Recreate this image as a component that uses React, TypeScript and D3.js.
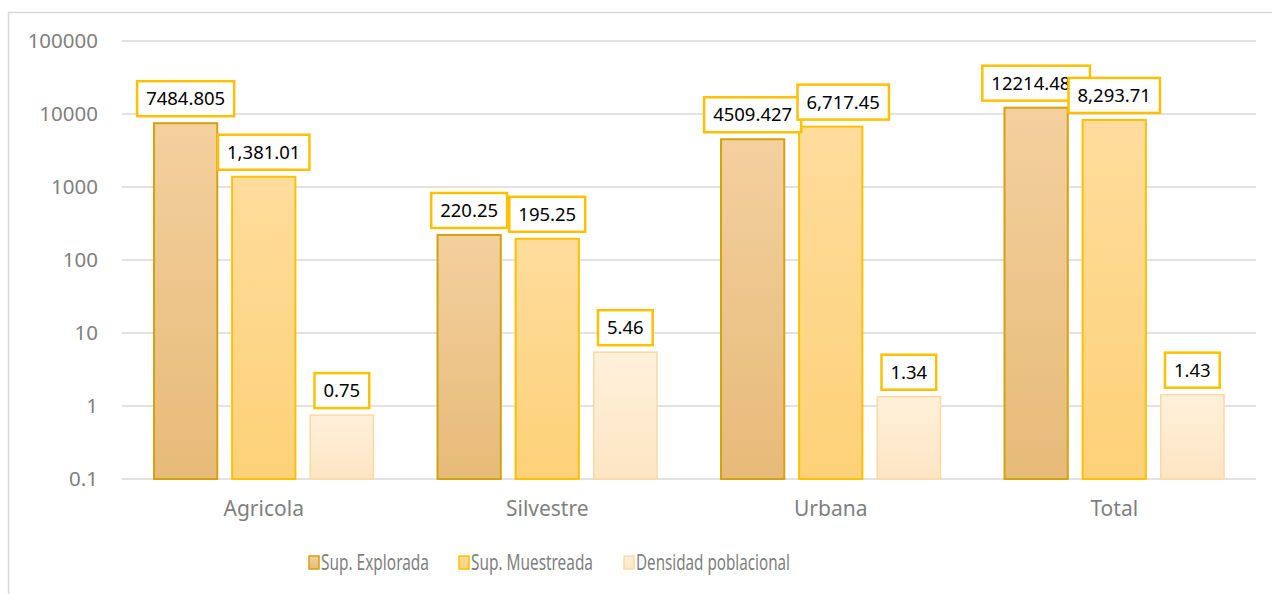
import React, { useRef, useEffect } from 'react';
import * as d3 from 'd3';

const categories = ['Agricola', 'Silvestre', 'Urbana', 'Total'];
const seriesNames = ['Sup. Explorada', 'Sup. Muestreada', 'Densidad poblacional'];
const explorada = [7484.805, 220.25, 4509.427, 12214.482];
const muestreada = [1381.01, 195.25, 6717.45, 8293.71];
const densidad = [0.75, 5.46, 1.34, 1.43];
const yTicks = [0.1, 1, 10, 100, 1000, 10000, 100000];

const W = 1272;
const H = 594;

const styles = [
  { top: '#f3d09e', bottom: '#e7ba78', stroke: '#d4a20f', fmt: (v: number) => String(v) },
  { top: '#fedc9c', bottom: '#fdd178', stroke: '#ffc000', fmt: d3.format(',.2f') },
  { top: '#fff0db', bottom: '#fde5c3', stroke: '#fad9a3', fmt: d3.format('.2f') },
];

const App: React.FC = () => {
  const svgRef = useRef<SVGSVGElement | null>(null);

  useEffect(() => {
    if (!svgRef.current) return;
    const svg = d3.select(svgRef.current);
    svg.selectAll('*').remove();

    const margin = { top: 41, right: 16, bottom: 115, left: 122 };
    const font = '"Noto Sans", "Open Sans", sans-serif';

    // chart frame
    svg.append('rect')
      .attr('x', 8.5).attr('y', 12.5)
      .attr('width', W + 20).attr('height', H + 20)
      .attr('fill', 'white').attr('stroke', '#d9d9d9').attr('stroke-width', 1.5);

    const x = d3.scaleBand()
      .domain(categories)
      .range([margin.left, W - margin.right])
      .paddingInner(0).paddingOuter(0);

    const y = d3.scaleLog()
      .domain([0.1, 100000])
      .range([H - margin.bottom, margin.top]);

    // gridlines
    svg.append('g')
      .selectAll('line')
      .data(yTicks)
      .enter()
      .append('line')
      .attr('x1', margin.left).attr('x2', W - margin.right)
      .attr('y1', d => y(d)).attr('y2', d => y(d))
      .attr('stroke', '#d9d9d9').attr('stroke-width', 1.5);

    svg.append('g')
      .selectAll('text')
      .data(yTicks)
      .enter()
      .append('text')
      .attr('x', 98).attr('y', d => y(d))
      .attr('dy', '0.35em')
      .attr('text-anchor', 'end')
      .attr('font-family', font).attr('font-size', 20.5)
      .attr('fill', '#7f7f7f')
      .text(d => String(d));

    svg.append('g')
      .selectAll('text')
      .data(categories)
      .enter()
      .append('text')
      .attr('x', d => x(d)! + x.bandwidth() / 2)
      .attr('y', H - margin.bottom + 37)
      .attr('text-anchor', 'middle')
      .attr('font-family', font).attr('font-size', 21)
      .attr('fill', '#7f7f7f')
      .text(d => d);

    const defs = svg.append('defs');
    styles.forEach((s, i) => {
      const g = defs.append('linearGradient')
        .attr('id', `grad${i}`).attr('x1', 0).attr('y1', 0).attr('x2', 0).attr('y2', 1);
      g.append('stop').attr('offset', '0%').attr('stop-color', s.top);
      g.append('stop').attr('offset', '100%').attr('stop-color', s.bottom);
    });

    const series = [explorada, muestreada, densidad];
    const xs = d3.scaleBand()
      .domain(seriesNames)
      .range([0, x.bandwidth()])
      .paddingInner(0.19)
      .paddingOuter(0.41);

    series.forEach((vals, si) => {
      const s = styles[si];
      svg.append('g')
        .selectAll('rect')
        .data(vals)
        .enter()
        .append('rect')
        .attr('x', (d, i) => x(categories[i])! + xs(seriesNames[si])!)
        .attr('y', d => y(d))
        .attr('width', xs.bandwidth())
        .attr('height', d => y(0.1) - y(d))
        .attr('fill', `url(#grad${si})`)
        .attr('stroke', s.stroke).attr('stroke-width', si === 2 ? 1.5 : 2);
    });

    // data labels
    series.forEach((vals, si) => {
      const s = styles[si];
      vals.forEach((v, i) => {
        let cx = x(categories[i])! + xs(seriesNames[si])! + xs.bandwidth() / 2;
        if (si === 1 && i === 2) cx += 12.5; // Excel nudged this one
        const g = svg.append('g');
        const rect = g.append('rect');
        const t = g.append('text')
          .attr('x', cx)
          .attr('y', y(v) - 7 - 17.5)
          .attr('dy', '0.36em')
          .attr('text-anchor', 'middle')
          .attr('font-family', font).attr('font-size', 18.5)
          .attr('fill', '#000')
          .text(s.fmt(v));
        const w = (t.node() as SVGTextElement).getComputedTextLength() + 18;
        rect
          .attr('x', cx - w / 2).attr('y', y(v) - 7 - 35)
          .attr('width', w).attr('height', 35)
          .attr('fill', 'white').attr('stroke', '#ffc000').attr('stroke-width', 2.5);
      });
    });

    // legend (Calibri-like condensed width)
    const legendX = [309, 459, 624];
    const legendW = [108, 122, 154];
    const legend = svg.append('g');
    seriesNames.forEach((name, i) => {
      legend.append('rect')
        .attr('x', legendX[i]).attr('y', 556)
        .attr('width', 10).attr('height', 13)
        .attr('fill', `url(#grad${i})`)
        .attr('stroke', styles[i].stroke).attr('stroke-width', 1.5);
      legend.append('text')
        .attr('x', legendX[i] + 12).attr('y', 563)
        .attr('dy', '0.35em')
        .attr('font-family', font).attr('font-size', 21)
        .attr('textLength', legendW[i])
        .attr('lengthAdjust', 'spacingAndGlyphs')
        .attr('fill', '#7f7f7f')
        .text(name);
    });
  }, []);

  return (
    <div style={{ position: 'fixed', left: 0, top: 0, width: W, height: H, background: 'white' }}>
      <svg ref={svgRef} width={W} height={H} style={{ display: 'block' }} />
    </div>
  );
};

export default App;
